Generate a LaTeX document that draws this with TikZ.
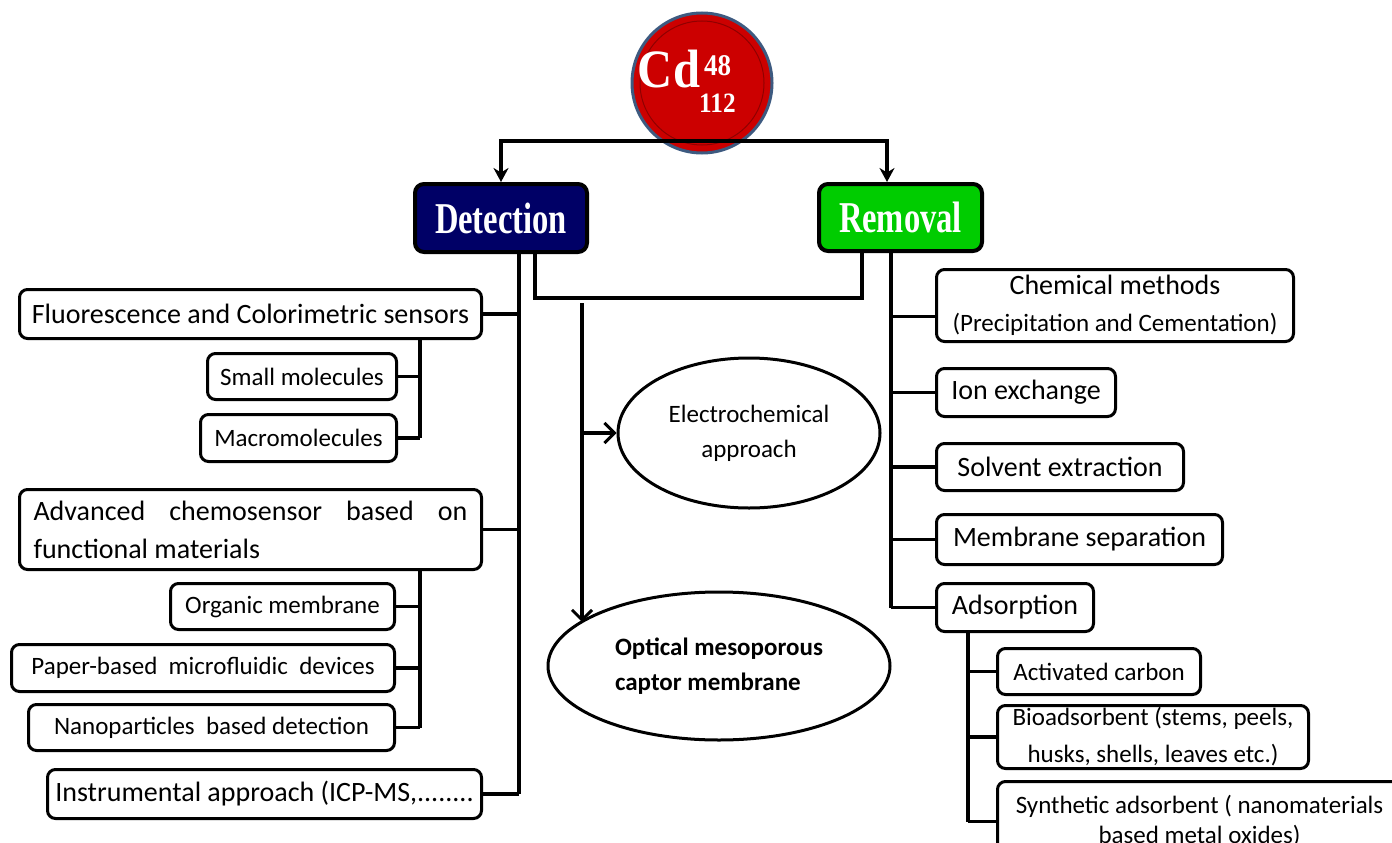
\documentclass[tikz,border=0pt]{standalone}
\usepackage{fontspec}
\setmainfont{Carlito}
\newfontfamily\headfont[FakeStretch=0.74]{Liberation Serif}
\newfontfamily\cdfont[FakeStretch=0.9]{Liberation Serif}
\usetikzlibrary{arrows.meta,positioning,shapes.geometric}
\definecolor{detblue}{HTML}{000066}
\definecolor{remgreen}{HTML}{00CC00}
\definecolor{cdred}{HTML}{CC0000}
\definecolor{cdrim}{HTML}{3D5A80}
\tikzstyle{headbox} = [draw=black, line width=4pt, rounded corners=9pt, text=white, inner sep=0pt, font=\headfont\bfseries\fontsize{44}{44}\selectfont]
\tikzstyle{leafbox} = [draw=black, line width=3pt, rounded corners=8pt, fill=white, inner sep=0pt, align=center, anchor=north west, font=\fontsize{28}{34}\selectfont]
\tikzstyle{subbox} = [leafbox, font=\fontsize{25}{36}\selectfont]
\tikzstyle{approach} = [draw=black, ellipse, line width=3pt, inner sep=0pt, align=center, font=\fontsize{25}{35}\selectfont]
\tikzstyle{branch} = [line width=3.6pt]
\tikzstyle{pointer} = [branch, -{Straight Barb[length=10pt,width=20pt,line width=3pt]}]
\tikzstyle{drop} = [branch, -{Stealth[length=14pt,width=15pt]}]

\begin{document}
\begin{tikzpicture}[x=1pt,y=-1pt]
    \clip (0,0) rectangle (1392,843);
    % cadmium badge
    \node [circle, fill=cdred, draw=cdrim, line width=3pt, minimum size=140pt] (cd) at (702,83) {};
    \node [circle, draw=cdred!70!black, line width=1pt, minimum size=124pt] (cdring) at (cd) {};
    \node [anchor=base, text=white, font=\cdfont\bfseries\fontsize{54}{54}\selectfont] (cdsym) at (669,87) {Cd};
    \node [anchor=base west, inner sep=0pt, text=white, font=\cdfont\bfseries\fontsize{30}{30}\selectfont] (cdz) at (704,75) {48};
    \node [anchor=base west, inner sep=0pt, text=white, font=\cdfont\bfseries\fontsize{28}{28}\selectfont] (cdmass) at (699,112) {112};

    % the two branches
    \node [headbox, fill=detblue, anchor=north west, minimum width=172pt, minimum height=68pt] (det) at (413,182) {Detection};
    \node [headbox, fill=remgreen, anchor=north west, minimum width=163pt, minimum height=67pt] (rem) at (817,182) {Removal};
    \coordinate (split) at (702,141);
    \coordinate (remin) at (887,182);
    \draw [drop] (split) -| (det.north);
    \draw [drop] (split) -| (remin);

    % detection side
    \node [leafbox, minimum width=462pt, minimum height=49pt] (fluor) at (18,288) {Fluorescence and Colorimetric sensors};
    \node [subbox, minimum width=189pt, minimum height=46pt] (small) at (206,352) {Small molecules};
    \node [subbox, minimum width=196pt, minimum height=47pt] (macro) at (199,413) {Macromolecules};
    \node [leafbox, minimum width=462pt, minimum height=80pt, align=left, font=\fontsize{28}{38}\selectfont] (adv) at (18,488)
        {\makebox[434pt][s]{Advanced chemosensor based on}\\functional materials};
    \node [subbox, minimum width=224pt, minimum height=46pt] (organic) at (169,582) {Organic membrane};
    \node [subbox, minimum width=383pt, minimum height=47pt] (paper) at (10,643) {Paper-based\ \ microfluidic\ \ devices};
    \node [subbox, minimum width=366pt, minimum height=46pt] (nano) at (27,703) {Nanoparticles\ \ based detection};
    \node [leafbox, minimum width=434pt, minimum height=49pt] (instr) at (46,768) {Instrumental approach (ICP-MS,........};

    \coordinate (dtrunk) at (519,0);
    \coordinate (subx) at (420,0);
    \draw [branch] (det.south -| dtrunk) -- (instr.east -| dtrunk);
    \foreach \n in {fluor,adv,instr}
        \draw [branch] (\n.east) -- (\n.east -| dtrunk);
    \draw [branch] (fluor.south -| subx) -- (macro.east -| subx);
    \draw [branch] (adv.south -| subx) -- (nano.east -| subx);
    \foreach \n in {small,macro,organic,paper,nano}
        \draw [branch] (\n.east) -- (\n.east -| subx);

    % link between both branches
    \coordinate (lnkl) at (535,298);
    \coordinate (lnkr) at (862,298);
    \draw [branch] (det.south -| lnkl) -- (lnkl) -- (lnkr) -- (rem.south -| lnkr);

    % approaches
    \node [approach, minimum width=262pt, minimum height=150pt] (elec) at (749,433) {Electrochemical\\approach};
    \node [approach, minimum width=342pt, minimum height=148pt, align=left, font=\bfseries\fontsize{25}{35}\selectfont] (optic) at (719,666)
        {Optical mesoporous\\captor membrane};
    \coordinate (vtop) at (582,303);
    \coordinate (optin) at (582,622);
    \draw [pointer] (vtop) -- (optin);
    \draw [pointer] (vtop |- elec.west) -- (elec.west);

    % removal side
    \node [leafbox, minimum width=357pt, minimum height=72pt, font=\fontsize{28}{37}\selectfont] (chem) at (935,268)
        {Chemical methods\\{\fontsize{25}{28}\selectfont(Precipitation and Cementation)}};
    \node [leafbox, minimum width=179pt, minimum height=48pt] (ion) at (935,367) {Ion exchange};
    \node [leafbox, minimum width=247pt, minimum height=47pt] (solv) at (935,442) {Solvent extraction};
    \node [leafbox, minimum width=286pt, minimum height=50pt] (memb) at (935,513) {Membrane separation};
    \node [leafbox, minimum width=157pt, minimum height=48pt] (adsorp) at (935,582) {Adsorption};
    \node [subbox, minimum width=203pt, minimum height=46pt] (actc) at (996,647) {Activated carbon};
    \node [subbox, minimum width=311pt, minimum height=63pt, font=\fontsize{25}{37}\selectfont] (bio) at (996,704)
        {Bioadsorbent (stems, peels,\\husks, shells, leaves etc.)};
    \node [subbox, minimum width=404pt, minimum height=80pt, font=\fontsize{25}{30}\selectfont] (synth) at (996,780)
        {Synthetic adsorbent ( nanomaterials\\based metal oxides)};

    \coordinate (rtrunk) at (891,0);
    \coordinate (adx) at (968,0);
    \draw [branch] (rem.south -| rtrunk) -- (adsorp.west -| rtrunk);
    \draw [branch] ([yshift=-11pt]chem.west) -- ([yshift=-11pt]chem.west -| rtrunk);
    \foreach \n in {ion,solv,memb,adsorp}
        \draw [branch] (\n.west) -- (\n.west -| rtrunk);
    \draw [branch] (adsorp.south -| adx) -- (synth.west -| adx);
    \foreach \n in {actc,bio,synth}
        \draw [branch] (\n.west) -- (\n.west -| adx);
\end{tikzpicture}
\end{document}
